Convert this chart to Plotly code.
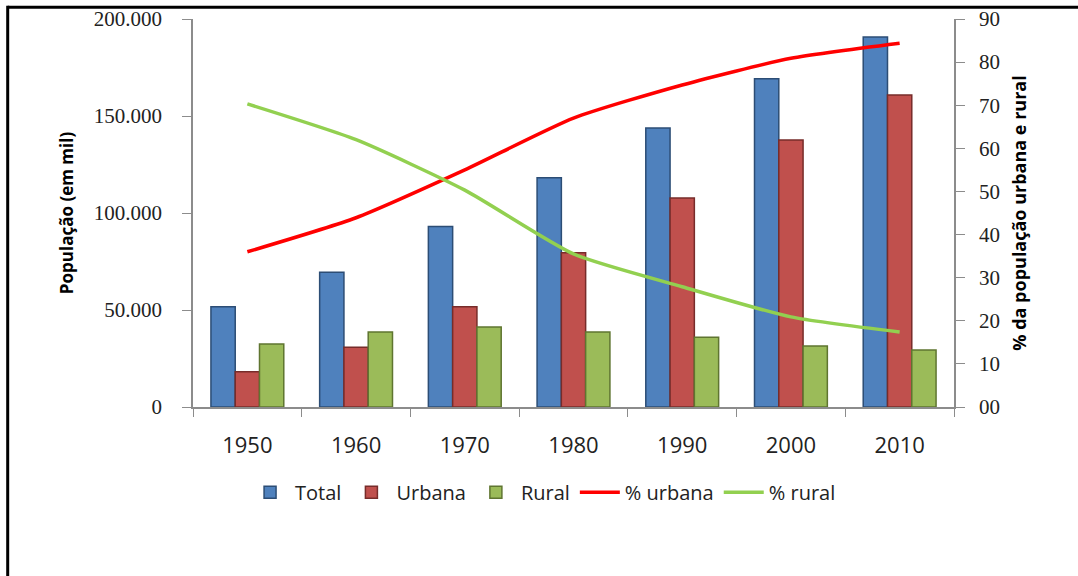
import plotly.graph_objects as go

years = ["1950", "1960", "1970", "1980", "1990", "2000", "2010"]
total = [51700, 69500, 93000, 118200, 143800, 169200, 190700]
urbana = [18200, 30800, 51700, 79500, 107700, 137600, 160800]
rural = [32500, 38600, 41200, 38700, 36000, 31400, 29400]
pct_urbana = [36.0, 43.9, 55.0, 67.0, 74.7, 80.9, 84.4]
pct_rural = [70.3, 62.0, 50.3, 35.5, 27.9, 20.9, 17.4]

left_ticks = [0, 50000, 100000, 150000, 200000]
left_ticktext = ["0", "50.000", "100.000", "150.000", "200.000"]
right_ticks = [0, 10, 20, 30, 40, 50, 60, 70, 80, 90]
right_ticktext = ["00", "10", "20", "30", "40", "50", "60", "70", "80", "90"]

serif = "Liberation Serif"
sans = "Open Sans"

fig = go.Figure()
fig.add_trace(go.Bar(x=years, y=total, name="Total",
                     marker=dict(color="#4F81BD", line=dict(color="#2C4D75", width=1.5))))
fig.add_trace(go.Bar(x=years, y=urbana, name="Urbana",
                     marker=dict(color="#C0504D", line=dict(color="#772C2A", width=1.5))))
fig.add_trace(go.Bar(x=years, y=rural, name="Rural",
                     marker=dict(color="#9BBB59", line=dict(color="#5F7530", width=1.5))))
fig.add_trace(go.Scatter(x=years, y=pct_urbana, name="% urbana", yaxis="y2",
                         mode="lines", line=dict(color="#FF0000", width=3.5, shape="spline", smoothing=0.6)))
fig.add_trace(go.Scatter(x=years, y=pct_rural, name="% rural", yaxis="y2",
                         mode="lines", line=dict(color="#92D050", width=3.5, shape="spline", smoothing=0.6)))

fig.update_layout(
    width=1078, height=576,
    margin=dict(l=193, r=124, t=19, b=169),
    paper_bgcolor="white", plot_bgcolor="white",
    barmode="group", bargap=0.33, bargroupgap=0,
    font=dict(family=sans, color="black"),
    xaxis=dict(
        type="category", showline=True, linecolor="#8C8C8C", linewidth=1.5,
        ticks="outside", ticklen=8, tickcolor="#8C8C8C", tickson="boundaries",
        tickfont=dict(family=sans, size=22, color="#222"), ticklabelstandoff=18,
        showgrid=False, zeroline=False, automargin=False,
    ),
    yaxis=dict(
        range=[0, 200000], tickmode="array", tickvals=left_ticks, ticktext=left_ticktext,
        showline=True, linecolor="#8C8C8C", linewidth=1.5,
        ticks="outside", ticklen=9, tickcolor="#8C8C8C",
        tickfont=dict(family=serif, size=21, color="#222"), ticklabelstandoff=16,
        showgrid=False, zeroline=False, automargin=False,
        title=dict(text="<b>População (em mil)</b>", font=dict(family=sans, size=17), standoff=16),
    ),
    yaxis2=dict(
        range=[0, 90], overlaying="y", side="right", tickmode="array",
        tickvals=right_ticks, ticktext=right_ticktext,
        showline=True, linecolor="#8C8C8C", linewidth=1.5,
        ticks="outside", ticklen=9, tickcolor="#8C8C8C",
        tickfont=dict(family=serif, size=21, color="#222"), ticklabelstandoff=10,
        showgrid=False, zeroline=False, automargin=False,
        title=dict(text="<b>% da população urbana e rural</b>", font=dict(family=sans, size=18), standoff=14),
    ),
    legend=dict(orientation="h", x=0.46, xanchor="center", y=-0.22, yanchor="middle",
                font=dict(family=sans, size=20, color="#222"), bgcolor="rgba(0,0,0,0)",
                itemwidth=40, tracegroupgap=0),
    shapes=[
        dict(type="line", xref="paper", yref="paper", x0=-0.2435, x1=1.2, y0=1.03, y1=1.03,
             line=dict(color="black", width=3)),
        dict(type="line", xref="paper", yref="paper", x0=-0.2435, x1=-0.2435, y0=1.034, y1=-0.5,
             line=dict(color="black", width=3)),
    ],
)

fig.write_html("out.html")
